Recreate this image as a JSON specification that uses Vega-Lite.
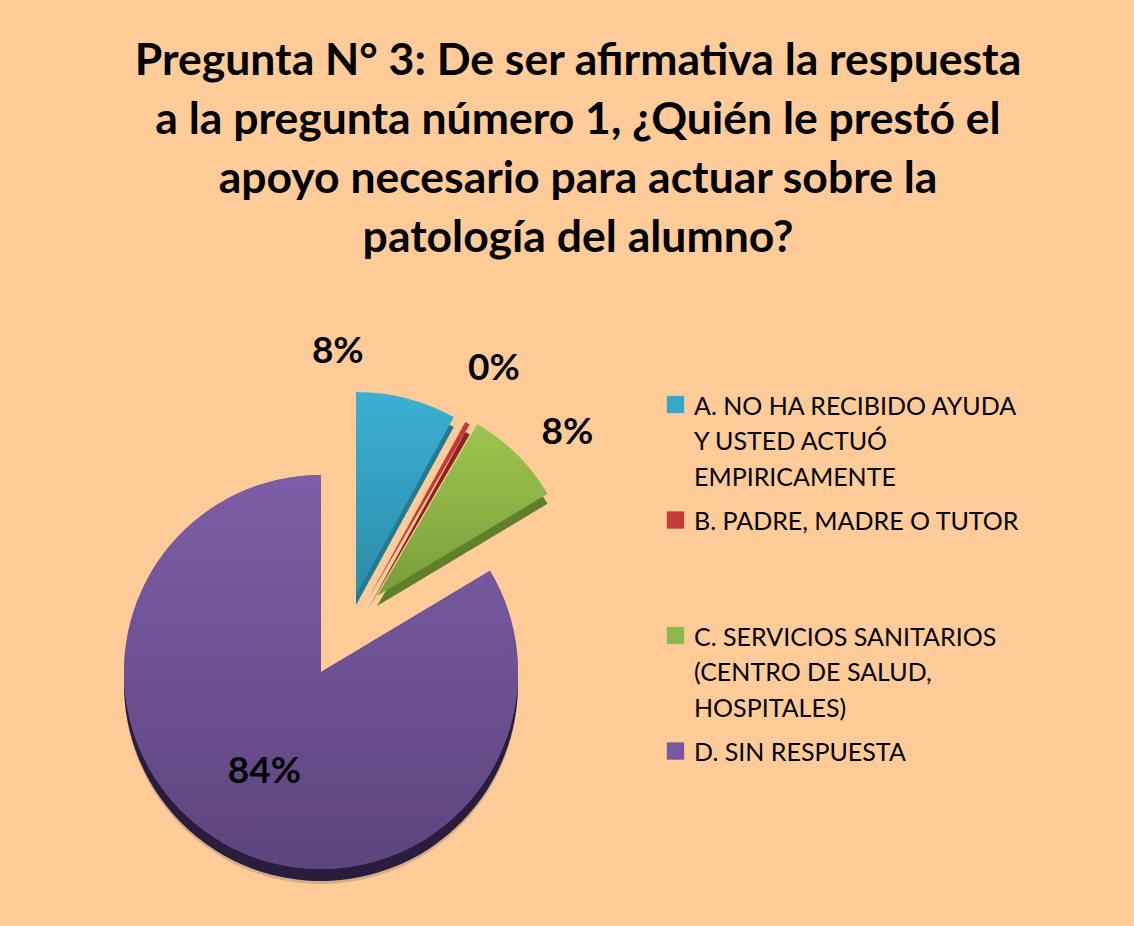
{
  "$schema": "https://vega.github.io/schema/vega-lite/v6.json",
  "width": 400,
  "height": 400,
  "autosize": {"type": "none"},
  "padding": {"left": 121, "top": 472, "right": 613, "bottom": 54},
  "background": "#FFCC99",
  "config": {"view": {"stroke": null}},
  "title": {
    "text": ["Pregunta N° 3: De ser afirmativa la respuesta", "a la pregunta número 1, ¿Quién le prestó el", "apoyo necesario para actuar sobre la", "patología del alumno?"],
    "font": "Lato",
    "fontSize": 44.5,
    "fontWeight": "bold",
    "color": "#000000",
    "lineHeight": 59,
    "anchor": "middle",
    "frame": "group",
    "dx": 257,
    "offset": 54
  },
  "data": {
    "values": [
      {"clave": "A", "categoria": "A. NO HA RECIBIDO AYUDA|Y USTED ACTUÓ|EMPIRICAMENTE", "valor": 0.08},
      {"clave": "B", "categoria": "B. PADRE, MADRE O TUTOR", "valor": 0.004},
      {"clave": "C", "categoria": "C. SERVICIOS SANITARIOS|(CENTRO DE SALUD,|HOSPITALES)", "valor": 0.08},
      {"clave": "D", "categoria": "D. SIN RESPUESTA", "valor": 0.836}
    ]
  },
  "transform": [
    {"stack": "valor", "groupby": [], "sort": [{"field": "clave", "order": "ascending"}], "as": ["v0", "v1"]}
  ],
  "layer": [
    {
      "transform": [{"filter": "datum.clave === 'D'"}],
      "mark": {"type": "arc", "outerRadius": 197, "yOffset": 15, "color": "#D4AE84"},
      "encoding": {
        "theta": {"field": "v0", "type": "quantitative", "scale": {"domain": [0, 1]}},
        "theta2": {"field": "v1"}
      }
    },
    {
      "transform": [{"filter": "datum.clave === 'D'"}],
      "mark": {"type": "arc", "outerRadius": 197, "yOffset": 12, "color": "#2A1C3C"},
      "encoding": {
        "theta": {"field": "v0", "type": "quantitative", "scale": {"domain": [0, 1]}},
        "theta2": {"field": "v1"}
      }
    },
    {
      "transform": [{"filter": "datum.clave === 'D'"}],
      "mark": {"type": "arc", "outerRadius": 197},
      "encoding": {
        "theta": {"field": "v0", "type": "quantitative", "scale": {"domain": [0, 1]}},
        "theta2": {"field": "v1"},
        "color": {
          "field": "categoria",
          "type": "nominal",
          "scale": {
            "domain": ["A. NO HA RECIBIDO AYUDA|Y USTED ACTUÓ|EMPIRICAMENTE", "B. PADRE, MADRE O TUTOR", "C. SERVICIOS SANITARIOS|(CENTRO DE SALUD,|HOSPITALES)", "D. SIN RESPUESTA"],
            "range": ["#38A6C6", "#C23B36", "#8FB84B", "#7659A0"]
          },
          "legend": {
            "orient": "none",
            "legendX": 542,
            "legendY": -80,
            "title": null,
            "padding": 0,
            "symbolType": "square",
            "symbolSize": 300,
            "symbolStrokeWidth": 0,
            "labelFont": "Lato",
            "labelFontSize": 25,
            "labelColor": "#000000",
            "labelLimit": 600,
            "labelOffset": 6,
            "labelBaseline": "top",
            "labelExpr": "split(datum.label, '|')",
            "rowPadding": 16.5,
            "gridAlign": "all",
            "encode": {"labels": {"update": {"dy": {"value": -10}, "lineHeight": {"value": 35.5}}}}
          }
        }
      }
    },
    {
      "transform": [{"filter": "datum.clave === 'D'"}],
      "mark": {"type": "arc", "outerRadius": 197, "fill": {"gradient": "linear", "x1": 0, "y1": 0, "x2": 0, "y2": 1, "stops": [{"offset": 0, "color": "#7D5EA6"}, {"offset": 1, "color": "#5E447F"}]}},
      "encoding": {
        "theta": {"field": "v0", "type": "quantitative", "scale": {"domain": [0, 1]}},
        "theta2": {"field": "v1"}
      }
    },
    {
      "transform": [{"filter": "datum.clave === 'A'"}],
      "mark": {"type": "arc", "outerRadius": 203, "xOffset": 35, "yOffset": -67, "color": "#237A93"},
      "encoding": {
        "theta": {"field": "v0", "type": "quantitative", "scale": {"domain": [0, 1]}},
        "theta2": {"field": "v1"}
      }
    },
    {
      "transform": [{"filter": "datum.clave === 'A'"}],
      "mark": {"type": "arc", "outerRadius": 203, "xOffset": 35, "yOffset": -77, "fill": {"gradient": "linear", "x1": 0, "y1": 0, "x2": 0, "y2": 1, "stops": [{"offset": 0, "color": "#3BB0D3"}, {"offset": 1, "color": "#2B8DA8"}]}},
      "encoding": {
        "theta": {"field": "v0", "type": "quantitative", "scale": {"domain": [0, 1]}},
        "theta2": {"field": "v1"}
      }
    },
    {
      "transform": [{"filter": "datum.clave === 'B'"}],
      "mark": {"type": "arc", "outerRadius": 202, "xOffset": 47, "yOffset": -63, "color": "#8E2420"},
      "encoding": {
        "theta": {"field": "v0", "type": "quantitative", "scale": {"domain": [0, 1]}},
        "theta2": {"field": "v1"}
      }
    },
    {
      "transform": [{"filter": "datum.clave === 'B'"}],
      "mark": {"type": "arc", "outerRadius": 202, "xOffset": 47, "yOffset": -73, "color": "#C23B36"},
      "encoding": {
        "theta": {"field": "v0", "type": "quantitative", "scale": {"domain": [0, 1]}},
        "theta2": {"field": "v1"}
      }
    },
    {
      "transform": [{"filter": "datum.clave === 'C'"}],
      "mark": {"type": "arc", "outerRadius": 199, "xOffset": 56, "yOffset": -66, "color": "#5F7F2C"},
      "encoding": {
        "theta": {"field": "v0", "type": "quantitative", "scale": {"domain": [0, 1]}},
        "theta2": {"field": "v1"}
      }
    },
    {
      "transform": [{"filter": "datum.clave === 'C'"}],
      "mark": {"type": "arc", "outerRadius": 199, "xOffset": 56, "yOffset": -76, "fill": {"gradient": "linear", "x1": 0, "y1": 0, "x2": 0, "y2": 1, "stops": [{"offset": 0, "color": "#9DC54D"}, {"offset": 1, "color": "#7A9E3C"}]}},
      "encoding": {
        "theta": {"field": "v0", "type": "quantitative", "scale": {"domain": [0, 1]}},
        "theta2": {"field": "v1"}
      }
    },
    {
      "mark": {"type": "text", "radius": 345, "xOffset": -69, "yOffset": 14, "font": "Lato", "fontSize": 37, "fontWeight": "bold", "color": "#000000", "align": "center", "baseline": "middle"},
      "encoding": {
        "theta": {"field": "valor", "type": "quantitative", "stack": true, "scale": {"domain": [0, 1]}},
        "order": {"field": "clave", "type": "ordinal", "sort": "ascending"},
        "text": {"condition": {"test": "datum.clave === 'A'", "field": "valor", "type": "quantitative", "format": ".0%"}, "value": ""}
      }
    },
    {
      "mark": {"type": "text", "radius": 345, "xOffset": 3, "yOffset": -3, "font": "Lato", "fontSize": 37, "fontWeight": "bold", "color": "#000000", "align": "center", "baseline": "middle"},
      "encoding": {
        "theta": {"field": "valor", "type": "quantitative", "stack": true, "scale": {"domain": [0, 1]}},
        "order": {"field": "clave", "type": "ordinal", "sort": "ascending"},
        "text": {"condition": {"test": "datum.clave === 'B'", "field": "valor", "type": "quantitative", "format": ".0%"}, "value": ""}
      }
    },
    {
      "mark": {"type": "text", "radius": 345, "xOffset": 4, "yOffset": 6, "font": "Lato", "fontSize": 37, "fontWeight": "bold", "color": "#000000", "align": "center", "baseline": "middle"},
      "encoding": {
        "theta": {"field": "valor", "type": "quantitative", "stack": true, "scale": {"domain": [0, 1]}},
        "order": {"field": "clave", "type": "ordinal", "sort": "ascending"},
        "text": {"condition": {"test": "datum.clave === 'C'", "field": "valor", "type": "quantitative", "format": ".0%"}, "value": ""}
      }
    },
    {
      "mark": {"type": "text", "radius": 115, "font": "Lato", "fontSize": 37, "fontWeight": "bold", "color": "#000000", "align": "center", "baseline": "middle"},
      "encoding": {
        "theta": {"field": "valor", "type": "quantitative", "stack": true, "scale": {"domain": [0, 1]}},
        "order": {"field": "clave", "type": "ordinal", "sort": "ascending"},
        "text": {"condition": {"test": "datum.clave === 'D'", "field": "valor", "type": "quantitative", "format": ".0%"}, "value": ""}
      }
    }
  ]
}
